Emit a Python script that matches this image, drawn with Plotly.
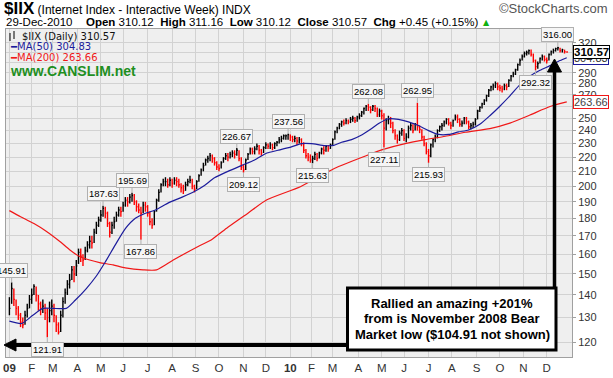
import math
import plotly.graph_objects as go

# ---------------- data: $IIX, one bar per two trading days, Jan-2009 .. Dec-2010 ----------------
close = [
    134, 143, 138, 134, 131, 128, 127, 131, 134, 138,
    140, 144, 140, 136, 134, 135, 132, 130, 133, 135,
    131, 127, 124, 131, 137, 141, 145, 147, 152, 150,
    154, 161, 159, 157, 162, 165, 167, 166, 172, 176,
    179, 182, 186, 183, 177, 172, 176, 178, 182, 185,
    184, 188, 191, 190, 193, 194, 190, 187, 185, 183,
    188, 187, 183, 178, 176, 184, 191, 196, 201, 203,
    203, 201, 204, 202, 204, 203, 201, 199, 197, 201,
    203, 204, 200, 198, 203, 207, 211, 214, 218, 219,
    221, 219, 216, 213, 212, 216, 219, 221, 220, 222,
    223, 222, 225, 219, 213, 211, 218, 222, 226, 224,
    226, 228, 225, 223, 227, 229, 228, 229, 227, 230,
    231, 233, 234, 236, 236, 237, 235, 233, 234, 232,
    233, 230, 225, 221, 220, 218, 219, 222, 219, 223,
    226, 225, 228, 226, 229, 233, 239, 242, 245, 247,
    246, 248, 247, 249, 250, 248, 251, 252, 255, 258,
    260, 259, 257, 260, 258, 253, 256, 252, 242, 248,
    249, 246, 240, 236, 233, 238, 240, 234, 235, 242,
    244, 240, 245, 243, 241, 235, 230, 224, 221, 229,
    233, 235, 240, 243, 244, 247, 249, 246, 244, 248,
    251, 249, 245, 246, 250, 247, 243, 244, 245, 249,
    256, 259, 262, 265, 269, 274, 277, 278, 280, 277,
    276, 275, 278, 277, 283, 287, 289, 293, 298, 302,
    306, 309, 310, 312, 308, 302, 296, 299, 304, 306,
    303, 302, 308, 311, 312, 314, 315, 312, 313, 311,
    310.57,
]
high = [
    139, 145.91, 143, 138, 135, 132, 130, 133, 136, 140,
    143, 145, 144, 140, 137, 138, 136, 134, 137, 138,
    136, 131, 128, 133, 139, 143, 147, 150, 154, 154,
    157, 163, 163, 160, 164, 167, 170, 170, 174, 178,
    181, 185, 187.63, 187, 184, 178, 178, 181, 184, 187,
    187, 190, 193, 193, 195, 195.69, 195, 191, 189, 187,
    190, 190, 188, 184, 180, 185, 192, 198, 202, 205,
    206, 205, 206, 205, 206, 206, 205, 202, 201, 203,
    205, 207, 205, 201, 204, 208, 212, 216, 219, 221,
    223, 222, 220, 217, 215, 217, 220, 223, 223, 224,
    225, 225, 226.67, 225, 220, 215, 219, 223, 227, 227,
    228, 230, 229, 226, 228, 231, 230, 231, 230, 231,
    232, 235, 236, 237, 237, 237.56, 237, 236, 236, 235,
    235, 234, 231, 226, 223, 222, 221, 224, 223, 224,
    227, 228, 229, 229, 230, 234, 240, 243, 246, 248,
    249, 250, 249, 251, 252, 251, 252, 254, 256, 259,
    261, 262.08, 260, 261, 261, 259, 258, 257, 254, 250,
    252, 251, 247, 241, 237, 240, 242, 241, 238, 244,
    246, 245, 246, 262.95, 244, 241, 236, 231, 226, 230,
    234, 237, 241, 244, 246, 248, 250, 250, 247, 249,
    253, 253, 250, 248, 251, 251, 248, 246, 247, 250,
    257, 260, 263, 266, 270, 275, 278, 280, 282, 281,
    279, 278, 280, 280, 284, 288, 291, 294, 299, 304,
    308, 311, 312, 313, 313, 309, 303, 301, 305, 308,
    307, 305, 309, 312, 314, 315, 316.00, 315, 314, 313,
    311.16,
]
low = [
    131, 136, 135, 131, 129, 126, 125.5, 127, 130, 134,
    136, 140, 137, 133, 131, 132, 129, 121.91, 128, 131,
    128, 124, 123, 124, 130, 136, 140, 143, 147, 146,
    149, 155, 156, 154, 157, 161, 163, 163, 166, 171,
    175, 178, 181, 180, 175, 169, 171, 174, 178, 181,
    181, 184, 187, 187, 189, 190, 188, 184, 183, 167.86,
    183, 184, 181, 176, 174, 176, 184, 190, 196, 200,
    200, 199, 200, 199, 201, 200, 199, 196, 195, 197,
    200, 202, 198, 196, 198, 203, 207, 210, 214, 216,
    217, 216, 214, 211, 210, 212, 216, 218, 217, 219,
    220, 219, 221, 217, 211, 209.12, 211, 218, 222, 222,
    222, 225, 222, 221, 223, 226, 226, 226, 225, 226,
    228, 230, 231, 233, 233, 233, 232, 231, 231, 229,
    230, 228, 223, 219, 217, 216, 215.63, 218, 217, 219,
    222, 222, 224, 224, 226, 229, 233, 238, 241, 243,
    244, 245, 245, 246, 247, 246, 247, 249, 251, 253,
    256, 256, 254, 256, 255, 251, 251, 249, 227.11, 240,
    245, 242, 238, 233, 230, 232, 236, 232, 231, 234,
    240, 238, 240, 240, 238, 233, 228, 222, 215.93, 220,
    227, 231, 234, 239, 240, 243, 245, 244, 241, 243,
    248, 246, 243, 243, 245, 245, 241, 241, 242, 244,
    249, 255, 258, 261, 264, 268, 273, 274, 276, 274,
    273, 272, 274, 274, 277, 282, 286, 288, 292, 297,
    302, 305, 307, 308, 306, 300, 292.32, 294, 299, 302,
    301, 299, 302, 307, 309, 311, 312, 310, 310, 309,
    310.12,
]
assert len(close) == len(high) == len(low) == 251

# trading-day index of each month start and its label
month_start = [0, 20, 39, 61, 82, 102, 124, 146, 167, 188, 210, 230,
               252, 271, 290, 313, 334, 354, 376, 397, 419, 440, 461, 482]
month_label = ["<b>09</b>", "F", "M", "A", "M", "J", "J", "A", "S", "O", "N", "D",
               "<b>10</b>", "F", "M", "A", "M", "J", "J", "A", "S", "O", "N", "D"]

# moving averages (trading-day index, value)
ma50_day = [0, 11, 21, 30, 39, 51, 59, 69, 78, 86, 95, 104, 113, 122, 131, 143, 155, 166, 175, 184,
            196, 208, 220, 231, 241, 253, 262, 271, 283, 291, 298, 307, 316, 324, 332, 340, 349, 358,
            367, 376, 385, 394, 403, 412, 422, 431, 440, 449, 458, 467, 476, 485, 494, 500]
ma50_val = [128.5, 127.5, 131, 134, 134, 134, 137.6, 143, 149, 156, 165, 174, 180, 183, 185, 189.5,
            193, 196.6, 200.5, 205.6, 210, 214, 218, 223, 225, 227.5, 230, 230, 228.5, 228.6, 231,
            233, 236.5, 241, 246, 249.5, 249, 247, 244, 240, 237, 237, 239, 240.5, 245, 252, 260,
            269, 279, 287, 292.5, 297, 302, 304.83]
ma200_day = [0, 10, 22, 33, 45, 54, 63, 72, 81, 93, 104, 120, 132, 147, 171, 181, 196, 214, 231,
             261, 291, 320, 337, 355, 373, 391, 409, 431, 449, 467, 485, 500]
ma200_val = [184.6, 181, 177, 172.6, 167, 162.4, 158.8, 157, 155.7, 154.5, 153, 152, 152, 157,
             164.7, 167.7, 174.8, 183.1, 191.3, 199.7, 211.8, 221, 226, 230, 233, 235.6, 238.7,
             241.6, 246, 252.6, 259.7, 263.66]

price_ticks = list(range(120, 321, 10))
hidden_ticks = [260, 300, 310]          # covered by the price tags in the original
peak_labels = [145.91, 187.63, 195.69, 226.67, 237.56, 262.08, 262.95, 316.00]
trough_labels = [121.91, 167.86, 209.12, 215.63, 227.11, 215.93, 292.32]

q_open, q_high, q_low, q_close, q_chg, q_pct = 310.12, 311.16, 310.12, 310.57, 0.45, 0.15
ma50_last, ma200_last = 304.83, 263.66

# ---------------- layout helpers ----------------
W, H = 613, 378
PL, PR, PT, PB = 6, 572, 29, 357


def fx(p):
    return (p - PL) / (PR - PL)


def fy(p):
    return (PB - p) / (PB - PT)


FONT = "Liberation Sans, Arial, sans-serif"
VFONT = "DejaVu Sans, Verdana, sans-serif"
BLUE = "#1c1c9c"
RED = "#f01818"

x = [2 * k for k in range(len(close))]


def bars(want_down):
    xs, ys = [], []
    for k in range(len(close)):
        is_down = k > 0 and close[k] < close[k - 1]
        if is_down == want_down:
            xs += [x[k], x[k], None, x[k], x[k] + 0.9, None]
            ys += [low[k], high[k], None, close[k], close[k], None]
    return xs, ys


fig = go.Figure()
ux, uy = bars(False)
dx, dy = bars(True)
fig.add_trace(go.Scatter(x=ux, y=uy, mode="lines", line=dict(color="#000000", width=1.4),
                         hoverinfo="skip", showlegend=False))
fig.add_trace(go.Scatter(x=dx, y=dy, mode="lines", line=dict(color="#ff0000", width=1.4),
                         hoverinfo="skip", showlegend=False))
fig.add_trace(go.Scatter(x=ma200_day, y=ma200_val, mode="lines",
                         line=dict(color=RED, width=1.2, shape="spline", smoothing=0.6),
                         showlegend=False))
fig.add_trace(go.Scatter(x=ma50_day, y=ma50_val, mode="lines",
                         line=dict(color=BLUE, width=1.2, shape="spline", smoothing=0.6),
                         showlegend=False))

ann = []
# peak / trough labels
for v in peak_labels:
    k = high.index(v)
    ann.append(dict(x=x[k], y=math.log10(v), xref="x", yref="y", text=f"{v:.2f}",
                    showarrow=True, arrowhead=0, arrowwidth=1, arrowcolor="#b0b0b0",
                    ax=0, ay=-12, bgcolor="#f6f6f6", bordercolor="#b0b0b0", borderwidth=1,
                    borderpad=1, font=dict(family=FONT, size=9.5, color="#000")))
for v in trough_labels:
    k = low.index(v)
    ann.append(dict(x=x[k], y=math.log10(v), xref="x", yref="y", text=f"{v:.2f}",
                    showarrow=True, arrowhead=0, arrowwidth=1, arrowcolor="#b0b0b0",
                    ax=0, ay=12, bgcolor="#f6f6f6", bordercolor="#b0b0b0", borderwidth=1,
                    borderpad=1, font=dict(family=FONT, size=9.5, color="#000")))

# right-side price tags
ann.append(dict(xref="paper", yref="y", x=fx(573), y=math.log10(ma50_last), xanchor="left",
                yanchor="middle", text=f"{ma50_last:.2f}", showarrow=False, bgcolor="#ffffff",
                bordercolor=BLUE, borderwidth=1, borderpad=0,
                font=dict(family=FONT, size=11, color="#333")))
ann.append(dict(xref="paper", yref="y", x=fx(573), y=math.log10(ma200_last), xanchor="left",
                yanchor="middle", text=f"{ma200_last:.2f}", showarrow=False, bgcolor="#ffffff",
                bordercolor=RED, borderwidth=1, borderpad=0,
                font=dict(family=FONT, size=11, color="#444")))
ann.append(dict(xref="paper", yref="y", x=fx(573), y=math.log10(q_close), xanchor="left",
                yanchor="middle", text=f"<b>{q_close:.2f}</b>", showarrow=False, bgcolor="#ffffff",
                bordercolor="#000", borderwidth=1, borderpad=0,
                font=dict(family=FONT, size=11.5, color="#000")))

# header
ann.append(dict(xref="paper", yref="paper", x=fx(2), y=fy(9), xanchor="left", yanchor="middle",
                text="<span style='font-size:17px'><b>$IIX</b></span> (Internet Index - Interactive Week) INDX",
                showarrow=False, font=dict(family=FONT, size=12, color="#000")))
ann.append(dict(xref="paper", yref="paper", x=fx(610), y=fy(9), xanchor="right", yanchor="middle",
                text="©StockCharts.com", showarrow=False,
                font=dict(family=FONT, size=13, color="#555")))
ann.append(dict(xref="paper", yref="paper", x=fx(4), y=fy(22), xanchor="left", yanchor="middle",
                text="29-Dec-2010", showarrow=False, font=dict(family=FONT, size=11.5, color="#000")))
sp = "\u00a0\u00a0"
quote = (f"<b>Open</b> {q_open:.2f}{sp}<b>High</b> {q_high:.2f}{sp}<b>Low</b> {q_low:.2f}{sp}"
         f"<b>Close</b> {q_close:.2f}{sp}<b>Chg</b> +{q_chg:.2f} (+{q_pct:.2f}%)")
ann.append(dict(xref="paper", yref="paper", x=fx(480), y=fy(22), xanchor="right", yanchor="middle",
                text=quote, showarrow=False, font=dict(family=FONT, size=11.5, color="#000")))
ann.append(dict(xref="paper", yref="paper", x=fx(481), y=fy(22), xanchor="left", yanchor="middle",
                text="▲", showarrow=False, font=dict(family=VFONT, size=8, color="#10b010")))

# in-plot legend
ann.append(dict(xref="paper", yref="paper", x=fx(20), y=fy(36), xanchor="left", yanchor="middle",
                text=f"$IIX (Daily) {q_close:.2f}", showarrow=False,
                font=dict(family=VFONT, size=10, color="#111")))
ann.append(dict(xref="paper", yref="paper", x=fx(8), y=fy(46.5), xanchor="left", yanchor="middle",
                text=f"━MA(50) {ma50_last:.2f}", showarrow=False,
                font=dict(family=VFONT, size=10, color=BLUE)))
ann.append(dict(xref="paper", yref="paper", x=fx(8), y=fy(57.5), xanchor="left", yanchor="middle",
                text=f"━MA(200) {ma200_last:.2f}", showarrow=False,
                font=dict(family=VFONT, size=10, color=RED)))
ann.append(dict(xref="paper", yref="paper", x=fx(8), y=fy(71), xanchor="left", yanchor="middle",
                text="<b>www.CANSLIM.net</b>", showarrow=False,
                font=dict(family=FONT, size=14, color="#1f8f1f")))

# callout text
for txt, yy in [("Rallied an amazing +201%", 303), ("from is November 2008 Bear", 318.5),
                ("Market low ($104.91 not shown)", 334)]:
    ann.append(dict(xref="paper", yref="paper", x=fx(452), y=fy(yy), xanchor="center",
                    yanchor="middle", text=f"<b>{txt}</b>", showarrow=False,
                    font=dict(family=FONT, size=13, color="#000")))

shapes = []
# legend icon
shapes.append(dict(type="line", xref="paper", yref="paper", x0=fx(10), x1=fx(10), y0=fy(41), y1=fy(33),
                   line=dict(color="#000", width=1)))
shapes.append(dict(type="line", xref="paper", yref="paper", x0=fx(14), x1=fx(14), y0=fy(39), y1=fy(31),
                   line=dict(color="#000", width=1)))
# callout box
shapes.append(dict(type="rect", xref="paper", yref="paper", x0=fx(347.5), x1=fx(556), y0=fy(350),
                   y1=fy(288), line=dict(color="#000", width=3), fillcolor="#ffffff", layer="above"))
# horizontal arrow to the left
shapes.append(dict(type="line", xref="paper", yref="paper", x0=fx(346), x1=fx(14), y0=fy(345),
                   y1=fy(345), line=dict(color="#000", width=4), layer="above"))
shapes.append(dict(type="path", xref="paper", yref="paper",
                   path=f"M {fx(4)},{fy(345)} L {fx(16)},{fy(339)} L {fx(16)},{fy(351)} Z",
                   fillcolor="#000", line=dict(color="#000", width=1), layer="above"))
# vertical arrow up
shapes.append(dict(type="line", xref="paper", yref="paper", x0=fx(554.5), x1=fx(554.5), y0=fy(287),
                   y1=fy(70), line=dict(color="#000", width=3.5), layer="above"))
shapes.append(dict(type="path", xref="paper", yref="paper",
                   path=f"M {fx(554.5)},{fy(59)} L {fx(547.5)},{fy(72)} L {fx(561.5)},{fy(72)} Z",
                   fillcolor="#000", line=dict(color="#000", width=1), layer="above"))

ymin, ymax = 114.24, 334.9
fig.update_layout(
    width=W, height=H,
    margin=dict(l=PL, r=W - PR, t=PT, b=H - PB, autoexpand=False),
    paper_bgcolor="#ffffff", plot_bgcolor="#efefef",
    showlegend=False,
    annotations=ann, shapes=shapes,
    xaxis=dict(range=[-3.05, 504.7], tickmode="array", tickvals=month_start, ticktext=month_label,
               showgrid=True, gridcolor="#d2d2d2", gridwidth=1, zeroline=False,
               showline=True, mirror=True, linecolor="#a0a0a0", linewidth=1, ticks="",
               automargin=False,
               tickfont=dict(family=FONT, size=11.5, color="#333")),
    yaxis=dict(type="log", range=[math.log10(ymin), math.log10(ymax)], side="right",
               tickmode="array", tickvals=price_ticks,
               ticktext=["" if t in hidden_ticks else str(t) for t in price_ticks],
               showgrid=True, gridcolor="#d2d2d2", gridwidth=1, zeroline=False,
               showline=True, mirror=True, linecolor="#a0a0a0", linewidth=1,
               ticks="outside", ticklen=3, tickcolor="#a0a0a0", automargin=False,
               tickfont=dict(family=FONT, size=11, color="#333")),
)

fig.write_html(
    "out.html",
    config={"displayModeBar": False},
    post_script="document.body.style.margin='0';document.body.style.padding='0';"
                "document.documentElement.style.margin='0';",
)
